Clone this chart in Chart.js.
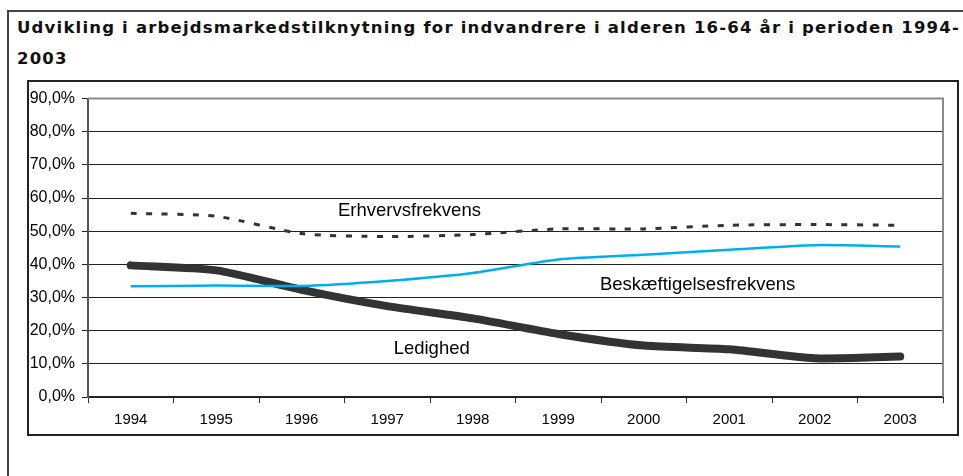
<!DOCTYPE html>
<html>
<head>
<meta charset="utf-8">
<script src="https://cdn.jsdelivr.net/npm/chart.js@4.4.1/dist/chart.umd.min.js"></script>
<style>
  html, body { margin: 0; padding: 0; background: #fff; width: 963px; height: 476px; overflow: hidden; }
  #frame { position: absolute; left: 7px; top: 10px; width: 1000px; height: 500px; border-left: 2px solid #444; border-top: 2px solid #444; box-sizing: border-box; }
  .title { position: absolute; left: 17px; font-family: "DejaVu Sans", sans-serif; font-weight: bold; font-size: 16.5px; line-height: 20px; color: #111; white-space: nowrap; }
  #t1 { top: 18px; }
  #t2 { top: 49px; }
  #box { position: absolute; left: 27px; top: 80px; width: 932px; height: 356px; border: 2px solid #222; box-sizing: border-box; }
  #wrap { position: absolute; left: 29px; top: 82px; width: 927px; height: 352px; }
</style>
</head>
<body>
<div id="frame"></div>
<div class="title" id="t1">Udvikling i arbejdsmarkedstilknytning for indvandrere i alderen 16-64 år i perioden 1994-</div>
<div class="title" id="t2">2003</div>
<div id="box"></div>
<div id="wrap"><canvas id="c" width="927" height="352"></canvas></div>
<script>
// ---- data ----
const years = ['1994','1995','1996','1997','1998','1999','2000','2001','2002','2003'];
const erhvervsfrekvens = [55.4, 54.5, 49.3, 48.4, 49.0, 50.7, 50.7, 51.8, 52.0, 51.8];
const beskaeftigelsesfrekvens = [33.4, 33.6, 33.5, 35.0, 37.4, 41.5, 42.9, 44.4, 45.8, 45.4];
const ledighed = [39.7, 38.2, 32.3, 27.4, 23.7, 19.0, 15.5, 14.4, 11.7, 12.2];
const yTickLabels = ['0,0%','10,0%','20,0%','30,0%','40,0%','50,0%','60,0%','70,0%','80,0%','90,0%'];
const seriesNames = ['Erhvervsfrekvens', 'Beskæftigelsesfrekvens', 'Ledighed'];
const labelAnchors = [[3.26, 56.2], [6.63, 33.7], [3.52, 14.5]];

// title letter spacing to fill line width
(function(){
  const t1 = document.getElementById('t1');
  const w = t1.getBoundingClientRect().width;
  const n = t1.textContent.length;
  const ls = Math.max(0, (943 - w) / n);
  document.querySelectorAll('.title').forEach(el => el.style.letterSpacing = ls + 'px');
})();

const plotFrame = {
  id: 'plotFrame',
  beforeDatasetsDraw(chart) {
    const a = chart.chartArea, ctx = chart.ctx;
    ctx.save();
    ctx.strokeStyle = '#8a8a8a';
    ctx.lineWidth = 2;
    ctx.beginPath();
    ctx.moveTo(a.left, a.top);
    ctx.lineTo(a.right, a.top);
    ctx.lineTo(a.right, a.bottom);
    ctx.stroke();
    ctx.restore();
  }
};

const seriesLabels = {
  id: 'seriesLabels',
  afterDatasetsDraw(chart) {
    const ctx = chart.ctx, xs = chart.scales.x, ys = chart.scales.y;
    ctx.save();
    ctx.font = '18.5px "Liberation Sans", Arial, sans-serif';
    ctx.fillStyle = '#000';
    ctx.textAlign = 'center';
    ctx.textBaseline = 'middle';
    seriesNames.forEach((name, i) => {
      ctx.fillText(name, xs.getPixelForValue(labelAnchors[i][0]), ys.getPixelForValue(labelAnchors[i][1]));
    });
    ctx.restore();
  }
};

new Chart(document.getElementById('c'), {
  type: 'line',
  data: {
    labels: years,
    datasets: [
      { label: seriesNames[0], data: erhvervsfrekvens, borderColor: '#333333', borderWidth: 3, borderDash: [6, 9.5], tension: 0.25, pointRadius: 0, fill: false },
      { label: seriesNames[1], data: beskaeftigelsesfrekvens, borderColor: '#00AEEF', borderWidth: 2.5, tension: 0.25, pointRadius: 0, fill: false },
      { label: seriesNames[2], data: ledighed, borderColor: '#333333', borderWidth: 8, borderCapStyle: 'round', borderJoinStyle: 'round', tension: 0.25, pointRadius: 0, fill: false }
    ]
  },
  options: {
    responsive: false,
    animation: false,
    layout: { padding: { left: 0, right: 13, top: 15, bottom: 0 } },
    plugins: { legend: { display: false }, tooltip: { enabled: false }, title: { display: false } },
    scales: {
      x: {
        type: 'category',
        offset: true,
        grid: { offset: true, drawOnChartArea: false, drawTicks: true, tickLength: 6, color: '#333' },
        border: { display: true, color: '#222', width: 2 },
        ticks: { color: '#000', font: { family: '"Liberation Sans", Arial, sans-serif', size: 15 }, padding: 8, maxRotation: 0, autoSkip: false },
        afterFit(s) { s.height = 37; }
      },
      y: {
        min: 0, max: 90,
        grid: { color: '#222', lineWidth: 1, drawTicks: true, tickLength: 6 },
        border: { display: true, color: '#555', width: 2 },
        ticks: { stepSize: 10, color: '#000', padding: 7, font: { family: '"Liberation Sans", Arial, sans-serif', size: 16 },
          callback: (v, i) => yTickLabels[i] },
        afterFit(s) { s.width = 59; }
      }
    }
  },
  plugins: [plotFrame, seriesLabels]
});
</script>
</body>
</html>
